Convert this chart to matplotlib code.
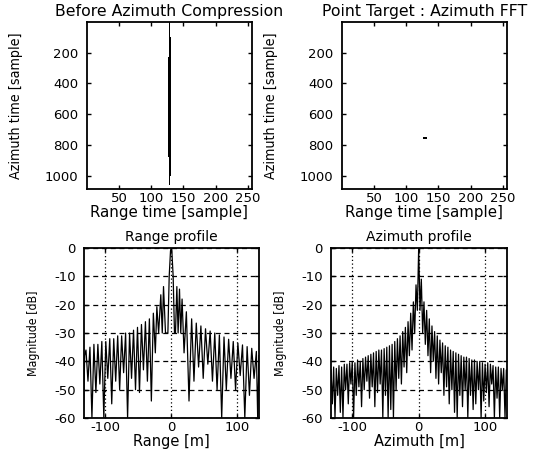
import numpy as np
import matplotlib.pyplot as plt

# image size [samples]
n_az = 1085
n_rg = 256

# raw data: target trace before azimuth compression
trace_col = 127
trace_rows = [1, 1060]
trace_mid_rows = [100, 1000]
trace_thick_rows = [230, 880]
# after azimuth fft: compressed point
point_cols = [125, 131]
point_rows = [750, 762]

# range profile (m, dB)
rng_m = [-133, -131, -129, -126, -123, -120, -117, -114, -111, -108, -105, -102,
         -99, -96, -93, -90, -87, -84, -81, -78, -75, -72, -69, -66, -63, -60,
         -57, -54, -51, -48, -45, -42, -39, -36, -33, -30, -27, -24, -21.7, -19,
         -15.7, -13.5, -11.6, -8.6, -5, -3, -1, 0, 1, 3, 5, 6.5, 8.6, 10.5, 12.6,
         14.5, 16.5, 19.5, 23, 27, 31, 34.5, 38, 41.5, 45, 48.5, 52, 55.5, 59,
         62.5, 66, 69.5, 73, 76.5, 80, 83.5, 87, 90.5, 94, 97.5, 101, 104.5, 108,
         111.5, 115, 118.5, 122, 125.5, 129, 131, 133]
rng_db = [-60, -38, -36, -47, -35, -60, -34, -51, -34, -48, -33, -60,
          -33, -46, -32, -55, -32, -47, -31, -50, -31, -44, -30, -60, -30, -46,
          -29, -50, -28, -51, -27, -43, -26, -47, -25, -54, -23, -37, -20.7, -30,
          -16.5, -30, -13.6, -30, -30, -10, -1, 0, -1, -10, -30, -30, -13.6, -30, -14.5,
          -30, -18, -37, -22.5, -54, -25, -47, -26.5, -42, -27.5, -46, -28.5, -41, -29.3,
          -47, -30, -50, -30.7, -60, -31.4, -50, -32.2, -46, -33, -50, -33.6, -45, -34.2,
          -60, -34.8, -52, -35.4, -46, -36.5, -60, -38]

# azimuth profile, sampled every 2 m (peak / null alternating)
az_m = np.arange(-132, 136, 2)
az_db = [-43, -55, -42, -60, -42.5, -52, -41.5, -58, -42, -60, -41, -50,
         -41, -55, -40.5, -48, -40, -60, -40.5, -52, -39.5, -49, -40, -56,
         -39, -50, -38.5, -47, -38, -53, -37.5, -49, -37, -56, -36.5, -51,
         -36, -48, -36, -60, -35.5, -52, -35, -60, -34.5, -57, -34, -60,
         -33, -50, -32, -46, -31, -48, -29.5, -42, -28, -44, -26, -38,
         -23, -36, -19, -30, -13, -22,
         0,
         -22, -11, -30, -19, -34, -22, -38, -25, -44, -27.5, -40, -29.5, -46,
         -31, -48, -32.5, -44, -33.5, -52, -34.5, -49, -35, -55, -36, -50,
         -36.5, -58, -37, -60, -37.5, -52, -38, -56, -38.5, -50, -38.5, -60,
         -39, -52, -39.5, -57, -39.5, -55, -40, -50, -40, -60, -40.5, -54,
         -41, -51, -40.5, -56, -41, -48, -41.5, -60, -42, -53, -42, -60,
         -42.5, -50, -42.5, -60, -43, -48]

img_before = np.zeros((n_az, n_rg))
img_before[trace_rows[0]:trace_rows[1], trace_col - 1:trace_col + 1] = 1
img_before[trace_mid_rows[0]:trace_mid_rows[1], trace_col - 1:trace_col + 2] = 1
img_before[trace_thick_rows[0]:trace_thick_rows[1], trace_col - 2:trace_col + 2] = 1

img_after = np.zeros((n_az, n_rg))
img_after[point_rows[0]:point_rows[1], point_cols[0]:point_cols[1]] = 1

plt.rcParams['font.family'] = 'DejaVu Sans'
plt.rcParams['axes.unicode_minus'] = False

fig = plt.figure(figsize=(5.43, 4.49), dpi=100)
ax1 = fig.add_axes([0.1602, 0.5791, 0.3039, 0.3719])
ax2 = fig.add_axes([0.6298, 0.5791, 0.3039, 0.3719])
ax3 = fig.add_axes([0.1547, 0.0690, 0.3223, 0.3786])
ax4 = fig.add_axes([0.6096, 0.0690, 0.3241, 0.3786])


def style(ax):
    ax.tick_params(direction='in', top=True, right=True, length=3, width=1,
                   labelsize=9.5, pad=2)
    ax.tick_params(axis='y', pad=6)
    for s in ax.spines.values():
        s.set_linewidth(1.3)


for ax, img, ttl in [(ax1, img_before, 'Before Azimuth Compression'),
                     (ax2, img_after, 'Point Target : Azimuth FFT')]:
    ax.imshow(img, cmap='gray_r', vmin=0, vmax=1, aspect='auto',
              interpolation='nearest',
              extent=[0.5, n_rg + 0.5, n_az + 0.5, 0.5])
    ax.set_xticks([50, 100, 150, 200, 250])
    ax.set_yticks([200, 400, 600, 800, 1000])
    style(ax)
    ax.set_title(ttl, fontsize=11.3, pad=4)
    ax.set_xlabel('Range time [sample]', fontsize=10.8, labelpad=0)
    ax.set_ylabel('Azimuth time [sample]', fontsize=10.3, fontstretch='condensed')
    ax.yaxis.set_label_coords(-0.39, 0.5)

for ax, x, y, ttl, xl in [(ax3, rng_m, rng_db, 'Range profile', 'Range [m]'),
                          (ax4, az_m, az_db, 'Azimuth profile', 'Azimuth [m]')]:
    ax.plot(x, y, color='k', lw=0.9)
    ax.set_xlim(-132, 133)
    ax.set_ylim(-60, 0)
    ax.set_xticks([-100, 0, 100])
    ax.set_yticks([0, -10, -20, -30, -40, -50, -60])
    ax.grid(axis='x', color='k', linestyle=(0, (1, 2)), lw=0.9)
    ax.grid(axis='y', color='k', linestyle=(0, (4, 3)), lw=0.9)
    style(ax)
    ax.set_title(ttl, fontsize=10, pad=5)
    ax.set_xlabel(xl, fontsize=10.5, labelpad=0)
    ax.set_ylabel('Magnitude [dB]', fontsize=8.8, fontstretch='condensed')
    ax.yaxis.set_label_coords(-0.25, 0.5)

fig.savefig('out.png', dpi=100)
